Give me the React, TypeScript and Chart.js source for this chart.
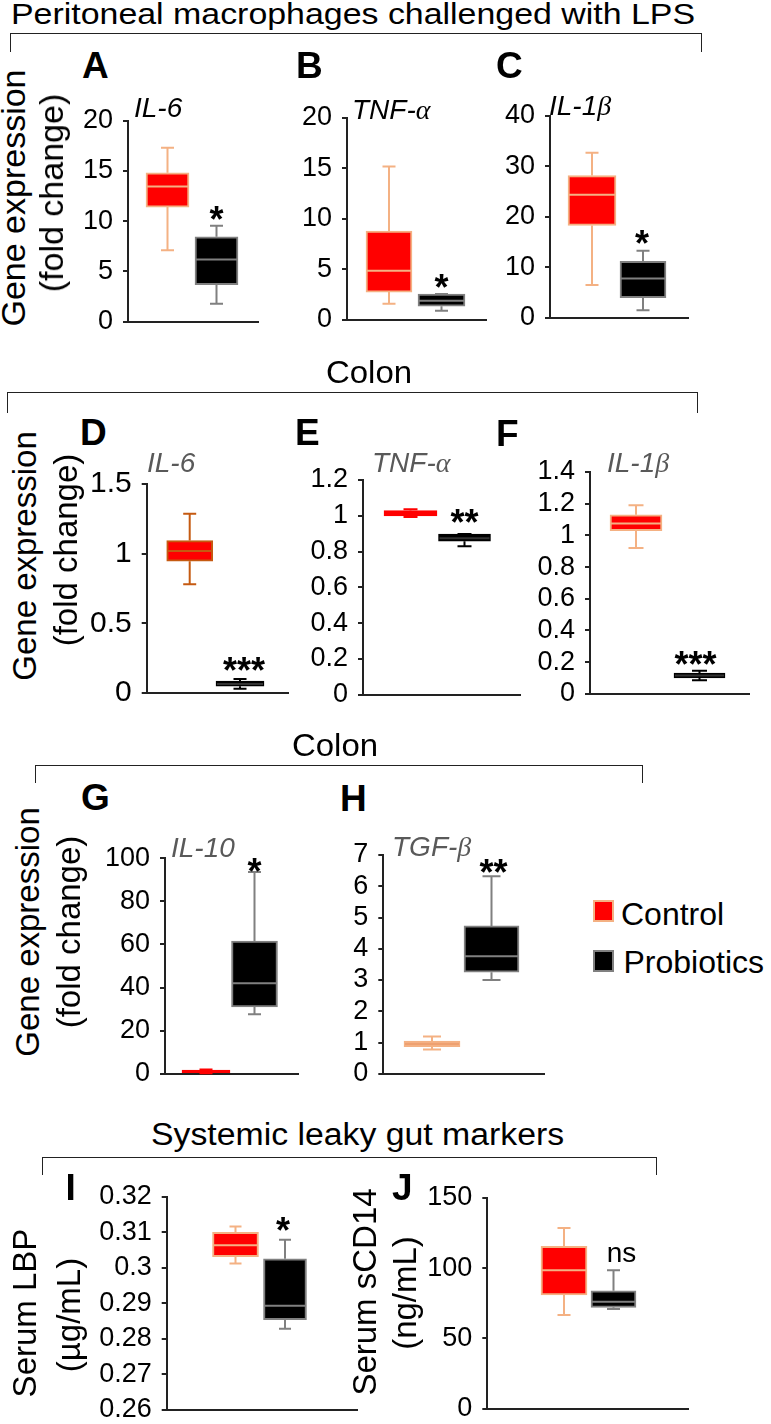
import React, { useEffect, useRef } from 'react';
import { Chart, registerables } from 'chart.js';

Chart.register(...registerables);

const FONT = '"Liberation Sans", Arial, Helvetica, sans-serif';
const SERIF = '"Liberation Serif", "Times New Roman", serif';

// ---------------- DATA ----------------
const groups = ['Control', 'Probiotics'];

// Box statistics per group: [min, Q1, median, Q3, max]
const aControl = [7.1, 11.4, 13.45, 14.8, 17.3];
const aProbiotics = [1.8, 3.7, 6.2, 8.45, 9.55];
const bControl = [1.6, 2.75, 4.85, 8.8, 15.2];
const bProbiotics = [0.9, 1.35, 1.9, 2.55, 2.55];
const cControl = [6.5, 18.3, 24.4, 28.2, 32.7];
const cProbiotics = [1.5, 4.0, 7.8, 11.2, 13.3];
const dControl = [0.78, 0.946, 1.019, 1.094, 1.287];
const dProbiotics = [0.03, 0.049, 0.065, 0.085, 0.1];
const eControl = [0.993, 1.0, 1.012, 1.029, 1.037];
const eProbiotics = [0.83, 0.858, 0.875, 0.898, 0.898];
const fControl = [0.92, 1.03, 1.075, 1.13, 1.19];
const fProbiotics = [0.085, 0.1, 0.115, 0.13, 0.145];
const gControl = [0.3, 0.5, 1.0, 1.7, 2.0];
const gProbiotics = [27.6, 31.0, 42.0, 61.6, 93.7];
const hControl = [0.78, 0.87, 0.95, 1.05, 1.19];
const hProbiotics = [3.0, 3.25, 3.76, 4.73, 6.32];
const iControl = [0.3012, 0.3031, 0.3063, 0.31, 0.3116];
const iProbiotics = [0.2828, 0.2854, 0.2893, 0.3025, 0.3079];
const jControl = [66.7, 81.0, 98.4, 115.5, 128.4];
const jProbiotics = [70.9, 72.1, 76.0, 83.8, 98.4];

// Y ticks and labels
const tick20 = [0, 5, 10, 15, 20];
const tickLabel20 = ['0', '5', '10', '15', '20'];
const tick40 = [0, 10, 20, 30, 40];
const tickLabel40 = ['0', '10', '20', '30', '40'];
const tickD = [0, 0.5, 1, 1.5];
const tickLabelD = ['0', '0.5', '1', '1.5'];
const tickE = [0, 0.2, 0.4, 0.6, 0.8, 1, 1.2];
const tickLabelE = ['0', '0.2', '0.4', '0.6', '0.8', '1', '1.2'];
const tickF = [0, 0.2, 0.4, 0.6, 0.8, 1, 1.2, 1.4];
const tickLabelF = ['0', '0.2', '0.4', '0.6', '0.8', '1', '1.2', '1.4'];
const tickG = [0, 20, 40, 60, 80, 100];
const tickLabelG = ['0', '20', '40', '60', '80', '100'];
const tickH = [0, 1, 2, 3, 4, 5, 6, 7];
const tickLabelH = ['0', '1', '2', '3', '4', '5', '6', '7'];
const tickI = [0.26, 0.27, 0.28, 0.29, 0.3, 0.31, 0.32];
const tickLabelI = ['0.26', '0.27', '0.28', '0.29', '0.3', '0.31', '0.32'];
const tickJ = [0, 50, 100, 150];
const tickLabelJ = ['0', '50', '100', '150'];

// Significance labels
const sigLabels = ['*', '*', '*', '***', '**', '***', '*', '**', '*', 'ns'];

// ---------------- STYLES ----------------
const RED = '#ff0000';
const SALMON = '#f4b183';
const GRAY = '#808080';
const BLACK = '#000000';
const BROWN = '#c55a11';
const AXIS = '#222222';

const redSalmon = { fill: RED, stroke: SALMON, whisker: SALMON, median: SALMON };
const redBrown = { fill: RED, stroke: BROWN, whisker: BROWN, median: BROWN };
const allRed = { fill: RED, stroke: RED, whisker: RED, median: RED };
const allSalmon = { fill: SALMON, stroke: SALMON, whisker: SALMON, median: '#eea070' };
const blackGray = { fill: BLACK, stroke: GRAY, whisker: GRAY, median: GRAY };
const allBlack = { fill: BLACK, stroke: BLACK, whisker: BLACK, median: '#333333' };

type Panel = {
  id: string;
  data: number[][];
  ticks: number[];
  labels: string[];
  area: { l: number; r: number; t: number; b: number };
  centers: number[];
  widths: number[];
  cap: number;
  styles: any[];
  sig: string;
  sigGap: number;
  sigDx: number;
  tickSize: number;
};

const panels: Panel[] = [
  { id: 'A', data: [aControl, aProbiotics], ticks: tick20, labels: tickLabel20, area: { l: 128, r: 258, t: 120.5, b: 324 }, centers: [167.5, 216.5], widths: [43, 43], cap: 13, styles: [redSalmon, blackGray], sig: sigLabels[0], sigGap: 13, sigDx: 0, tickSize: 27 },
  { id: 'B', data: [bControl, bProbiotics], ticks: tick20, labels: tickLabel20, area: { l: 347, r: 486, t: 118, b: 322 }, centers: [389, 441.5], widths: [46, 47], cap: 13, styles: [redSalmon, blackGray], sig: sigLabels[1], sigGap: 14, sigDx: 0, tickSize: 27 },
  { id: 'C', data: [cControl, cProbiotics], ticks: tick40, labels: tickLabel40, area: { l: 550, r: 688, t: 116, b: 319.3 }, centers: [592, 643], widths: [48, 46], cap: 13, styles: [redSalmon, blackGray], sig: sigLabels[2], sigGap: 15, sigDx: -1, tickSize: 27 },
  { id: 'D', data: [dControl, dProbiotics], ticks: tickD, labels: tickLabelD, area: { l: 146.7, r: 288, t: 484, b: 697 }, centers: [189.7, 240], widths: [46, 48], cap: 13, styles: [redBrown, allBlack], sig: sigLabels[3], sigGap: 16, sigDx: 4, tickSize: 30 },
  { id: 'E', data: [eControl, eProbiotics], ticks: tickE, labels: tickLabelE, area: { l: 363, r: 520, t: 480, b: 696.7 }, centers: [410.5, 464.5], widths: [53, 52], cap: 14, styles: [allRed, allBlack], sig: sigLabels[4], sigGap: 19, sigDx: 0, tickSize: 27 },
  { id: 'F', data: [fControl, fProbiotics], ticks: tickF, labels: tickLabelF, area: { l: 590, r: 749, t: 472, b: 696 }, centers: [636, 699.5], widths: [52, 51], cap: 15, styles: [redSalmon, allBlack], sig: sigLabels[5], sigGap: 13.6, sigDx: -4, tickSize: 27 },
  { id: 'G', data: [gControl, gProbiotics], ticks: tickG, labels: tickLabelG, area: { l: 165, r: 298, t: 858.3, b: 1075.7 }, centers: [206, 254.5], widths: [48, 46], cap: 13, styles: [allRed, blackGray], sig: sigLabels[6], sigGap: 8, sigDx: 0, tickSize: 27 },
  { id: 'H', data: [hControl, hProbiotics], ticks: tickH, labels: tickLabelH, area: { l: 383.3, r: 544.3, t: 855, b: 1075.7 }, centers: [432, 491.5], widths: [56, 55], cap: 18, styles: [allSalmon, blackGray], sig: sigLabels[7], sigGap: 10.6, sigDx: 2, tickSize: 27 },
  { id: 'I', data: [iControl, iProbiotics], ticks: tickI, labels: tickLabelI, area: { l: 166.7, r: 357.7, t: 1196.7, b: 1411.7 }, centers: [235.5, 285], widths: [46, 43], cap: 12, styles: [redSalmon, blackGray], sig: sigLabels[8], sigGap: 16, sigDx: -2, tickSize: 27 },
  { id: 'J', data: [jControl, jProbiotics], ticks: tickJ, labels: tickLabelJ, area: { l: 487.3, r: 688, t: 1197.7, b: 1410.7 }, centers: [564, 613.5], widths: [46, 45], cap: 13, styles: [redSalmon, blackGray], sig: sigLabels[9], sigGap: 15.5, sigDx: 8, tickSize: 27 },
];

// ---------------- BOX PLOT PLUGIN ----------------
function boxPlugin(p: Panel) {
  return {
    id: 'boxplot' + p.id,
    beforeDatasetsDraw(chart: any) {
      const { ctx, scales } = chart;
      const x = scales.x;
      const y = scales.y;
      ctx.save();
      ctx.lineWidth = 2;
      p.data.forEach((d, i) => {
        const cx = x.getPixelForValue(i);
        ctx.strokeStyle = p.styles[i].whisker;
        const yMin = y.getPixelForValue(d[0]);
        const yQ1 = y.getPixelForValue(d[1]);
        const yQ3 = y.getPixelForValue(d[3]);
        const yMax = y.getPixelForValue(d[4]);
        ctx.beginPath();
        ctx.moveTo(cx, yQ3);
        ctx.lineTo(cx, yMax);
        ctx.moveTo(cx, yQ1);
        ctx.lineTo(cx, yMin);
        ctx.moveTo(cx - p.cap / 2, yMax);
        ctx.lineTo(cx + p.cap / 2, yMax);
        ctx.moveTo(cx - p.cap / 2, yMin);
        ctx.lineTo(cx + p.cap / 2, yMin);
        ctx.stroke();
      });
      ctx.restore();
    },
    afterDatasetsDraw(chart: any) {
      const { ctx, scales } = chart;
      const x = scales.x;
      const y = scales.y;
      ctx.save();
      ctx.lineWidth = 2;
      p.data.forEach((d, i) => {
        const cx = x.getPixelForValue(i);
        const w = p.widths[i];
        const yMed = y.getPixelForValue(d[2]);
        ctx.strokeStyle = p.styles[i].median;
        ctx.beginPath();
        ctx.moveTo(cx - w / 2 + 1, yMed);
        ctx.lineTo(cx + w / 2 - 1, yMed);
        ctx.stroke();
      });
      // significance mark above Probiotics whisker
      const d = p.data[1];
      const cx = x.getPixelForValue(1) + p.sigDx;
      const top = y.getPixelForValue(d[4]);
      const center = top - p.sigGap;
      const isStar = p.sig.indexOf('*') >= 0;
      const size = isStar ? 36 : 28;
      ctx.font = (isStar ? 'bold ' : '') + size + 'px ' + FONT;
      ctx.fillStyle = '#000';
      ctx.textAlign = 'center';
      ctx.textBaseline = 'alphabetic';
      ctx.fillText(p.sig, cx, center + (isStar ? 0.55 : 0.26) * size);
      ctx.restore();
    },
  };
}

const YW = 80;
const PT = 30;
const PB = 24;
const PR = 12;

function PanelChart({ p }: { p: Panel }) {
  const ref = useRef<HTMLCanvasElement>(null);
  const cl = Math.floor(p.area.l) - YW;
  const ct = Math.floor(p.area.t) - PT;
  const cw = Math.ceil(p.area.r) + PR - cl;
  const ch = Math.ceil(p.area.b) + PB - ct;

  useEffect(() => {
    if (!ref.current) return;
    const unit = p.centers[1] - p.centers[0];
    const xmin = -(p.centers[0] - p.area.l) / unit;
    const xmax = 1 + (p.area.r - p.centers[1]) / unit;
    const yMin = p.ticks[0];
    const yMax = p.ticks[p.ticks.length - 1];
    const chart = new Chart(ref.current, {
      type: 'bar',
      data: {
        datasets: groups.map((g, i) => ({
          label: g,
          data: [{ x: i, y: [p.data[i][1], p.data[i][3]] }],
          backgroundColor: p.styles[i].fill,
          borderColor: p.styles[i].stroke,
          borderWidth: 2,
          borderSkipped: false,
          barThickness: p.widths[i],
          grouped: false,
        })) as any,
      },
      options: {
        animation: false,
        responsive: false,
        maintainAspectRatio: false,
        events: [],
        layout: {
          autoPadding: false,
          padding: {
            left: 0,
            top: p.area.t - ct,
            right: cl + cw - p.area.r,
            bottom: ct + ch - p.area.b,
          },
        },
        datasets: { bar: { grouped: false } } as any,
        plugins: {
          legend: { display: false },
          tooltip: { enabled: false },
          title: { display: false },
        },
        scales: {
          x: {
            type: 'linear',
            offset: false,
            min: xmin,
            max: xmax,
            ticks: { display: false },
            grid: { display: true, offset: false, drawOnChartArea: false, drawTicks: false, color: 'rgba(0,0,0,0)' },
            border: { display: true, color: AXIS, width: 2 },
            afterFit: (s: any) => {
              s.height = 0;
            },
          },
          y: {
            type: 'linear',
            min: yMin,
            max: yMax,
            afterBuildTicks: (s: any) => {
              s.ticks = p.ticks.map((v) => ({ value: v }));
            },
            ticks: {
              autoSkip: false,
              padding: 10,
              color: '#000',
              font: { family: FONT, size: p.tickSize },
              callback: (_v: any, i: number) => p.labels[i],
            },
            grid: {
              display: true,
              drawOnChartArea: false,
              drawTicks: true,
              tickLength: 5,
              color: AXIS,
              lineWidth: 2,
            },
            border: { display: true, color: AXIS, width: 2 },
            afterFit: (s: any) => {
              s.width = p.area.l - cl;
            },
          },
        },
      } as any,
      plugins: [boxPlugin(p)],
    });
    return () => chart.destroy();
  }, []);

  return (
    <canvas
      ref={ref}
      width={cw}
      height={ch}
      style={{ position: 'absolute', left: cl, top: ct, width: cw, height: ch }}
    />
  );
}

// ---------------- TEXT HELPERS ----------------
function HText(props: {
  x: number;
  y: number;
  size: number;
  children: any;
  weight?: number;
  italic?: boolean;
  color?: string;
  anchor?: string;
  sx?: number;
}) {
  const { x, y, size, children, weight = 400, italic = false, color = '#000', anchor = 'start', sx = 1 } = props;
  const top = y - 0.8465 * size;
  const transform = (anchor === 'middle' ? 'translateX(-50%) ' : '') + (sx !== 1 ? `scaleX(${sx})` : '');
  return (
    <div
      style={{
        position: 'absolute',
        left: x,
        top,
        fontFamily: FONT,
        fontSize: size,
        lineHeight: size + 'px',
        fontWeight: weight,
        fontStyle: italic ? 'italic' : 'normal',
        color,
        whiteSpace: 'nowrap',
        transform: transform || undefined,
        transformOrigin: anchor === 'middle' ? 'center' : 'left center',
      }}
    >
      {children}
    </div>
  );
}

function VText({ cx, cy, size, children }: { cx: number; cy: number; size: number; children: any }) {
  return (
    <div
      style={{
        position: 'absolute',
        left: cx,
        top: cy,
        fontFamily: FONT,
        fontSize: size,
        lineHeight: size + 'px',
        whiteSpace: 'nowrap',
        color: '#000',
        transform: 'translate(-50%, -50%) rotate(-90deg)',
      }}
    >
      {children}
    </div>
  );
}

function Bracket({ l, t, r, b }: { l: number; t: number; r: number; b: number }) {
  return (
    <div
      style={{
        position: 'absolute',
        left: l,
        top: t,
        width: r - l,
        height: b - t,
        boxSizing: 'border-box',
        borderTop: '1px solid #222',
        borderLeft: '1px solid #222',
        borderRight: '1px solid #222',
      }}
    />
  );
}

const greek = (s: string) => <span style={{ fontFamily: SERIF, fontStyle: 'italic' }}>{s}</span>;

const GENE_GRAY = '#595959';

export default function App() {
  return (
    <div
      style={{
        position: 'absolute',
        left: 0,
        top: 0,
        width: 771,
        height: 1424,
        background: '#fff',
        overflow: 'hidden',
        fontFamily: FONT,
      }}
    >
      {panels.map((p) => (
        <PanelChart key={p.id} p={p} />
      ))}

      {/* group titles */}
      <HText x={11} y={24} size={30} sx={1.13}>Peritoneal macrophages challenged with LPS</HText>
      <HText x={369} y={383} size={32} anchor="middle" sx={1.03}>Colon</HText>
      <HText x={335} y={756} size={32} anchor="middle" sx={1.03}>Colon</HText>
      <HText x={151} y={1145} size={31} sx={1.09}>Systemic leaky gut markers</HText>

      {/* brackets */}
      <Bracket l={10} t={33} r={702} b={52} />
      <Bracket l={7} t={392} r={698} b={413} />
      <Bracket l={35} t={765} r={643} b={783} />
      <Bracket l={42} t={1157} r={657} b={1175} />

      {/* panel letters */}
      <HText x={82} y={78} size={37} weight={700}>A</HText>
      <HText x={296} y={78} size={37} weight={700}>B</HText>
      <HText x={496} y={78} size={37} weight={700}>C</HText>
      <HText x={80} y={445} size={37} weight={700}>D</HText>
      <HText x={295} y={445} size={37} weight={700}>E</HText>
      <HText x={496} y={446} size={37} weight={700}>F</HText>
      <HText x={81} y={810} size={37} weight={700}>G</HText>
      <HText x={340} y={811} size={37} weight={700}>H</HText>
      <HText x={65.5} y={1200} size={37} weight={700}>I</HText>
      <HText x={392} y={1200} size={37} weight={700}>J</HText>

      {/* gene names */}
      <HText x={134} y={118} size={28} italic>IL-6</HText>
      <HText x={352} y={120} size={28} italic>TNF-{greek('α')}</HText>
      <HText x={549} y={116} size={28} italic>IL-1{greek('β')}</HText>
      <HText x={147} y={473} size={28} italic color={GENE_GRAY}>IL-6</HText>
      <HText x={372} y={473} size={28} italic color={GENE_GRAY}>TNF-{greek('α')}</HText>
      <HText x={607} y={473} size={28} italic color={GENE_GRAY}>IL-1{greek('β')}</HText>
      <HText x={171} y={858} size={28} italic color={GENE_GRAY}>IL-10</HText>
      <HText x={392} y={857} size={28} italic color={GENE_GRAY}>TGF-{greek('β')}</HText>

      {/* y-axis titles */}
      <VText cx={12.5} cy={198} size={34}>Gene expression</VText>
      <VText cx={50.6} cy={193} size={34}>(fold change)</VText>
      <VText cx={23.7} cy={556} size={33}>Gene expression</VText>
      <VText cx={64.6} cy={550} size={33}>(fold change)</VText>
      <VText cx={27} cy={932} size={33}>Gene expression</VText>
      <VText cx={67.6} cy={931.5} size={33}>(fold change)</VText>
      <VText cx={23.7} cy={1313} size={33}>Serum LBP</VText>
      <VText cx={67.6} cy={1315} size={33}>(µg/mL)</VText>
      <VText cx={363.7} cy={1291.5} size={33}>Serum sCD14</VText>
      <VText cx={404.3} cy={1292.5} size={33}>(ng/mL)</VText>

      {/* legend */}
      <div style={{ position: 'absolute', left: 593, top: 900, width: 21, height: 22, boxSizing: 'border-box', background: RED, border: '2px solid ' + SALMON }} />
      <HText x={621} y={925.5} size={32}>{groups[0]}</HText>
      <div style={{ position: 'absolute', left: 593, top: 950, width: 21, height: 22, boxSizing: 'border-box', background: BLACK, border: '2px solid ' + GRAY }} />
      <HText x={623.5} y={973} size={32}>{groups[1]}</HText>
    </div>
  );
}
